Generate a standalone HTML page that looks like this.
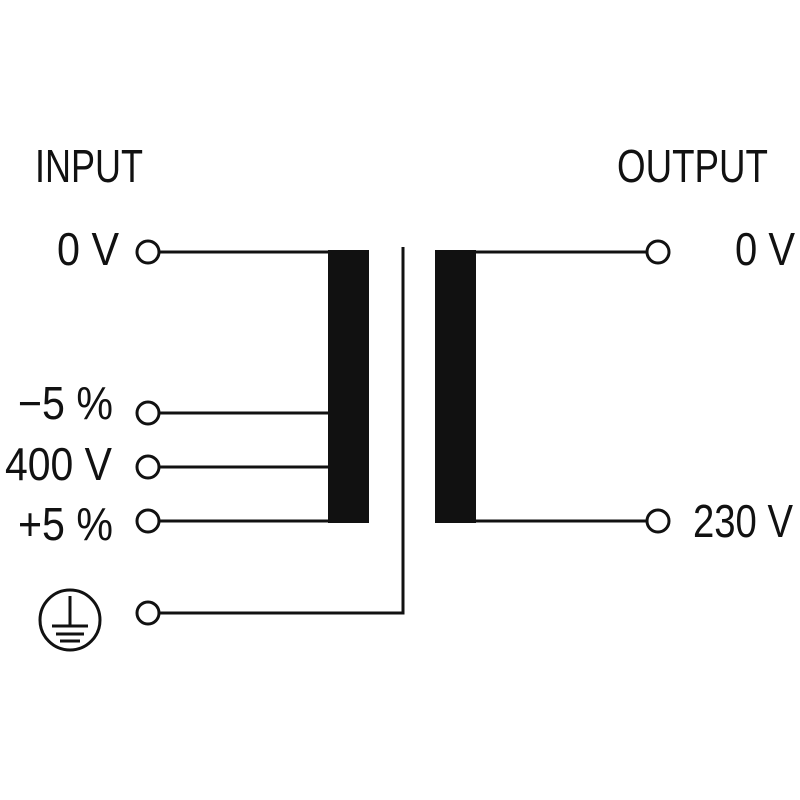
<!DOCTYPE html>
<html><head><style>html,body{margin:0;padding:0;background:#fff}svg{display:block}</style></head>
<body>
<svg width="800" height="800" viewBox="0 0 800 800" xmlns="http://www.w3.org/2000/svg">
<g font-family="Liberation Sans, sans-serif" font-size="46" fill="#111">
<text x="35" y="182" textLength="108" lengthAdjust="spacingAndGlyphs">INPUT</text>
<text x="617" y="182" textLength="151" lengthAdjust="spacingAndGlyphs">OUTPUT</text>
<text x="57" y="265" textLength="62" lengthAdjust="spacingAndGlyphs">0 V</text>
<text x="735" y="265" textLength="60" lengthAdjust="spacingAndGlyphs">0 V</text>
<text x="18" y="419" textLength="95" lengthAdjust="spacingAndGlyphs">−5 %</text>
<text x="5" y="480" textLength="107" lengthAdjust="spacingAndGlyphs">400 V</text>
<text x="18" y="540" textLength="95" lengthAdjust="spacingAndGlyphs">+5 %</text>
<text x="693" y="537" textLength="100" lengthAdjust="spacingAndGlyphs">230 V</text>
</g>
<g stroke="#111" stroke-width="3" fill="none">
<line x1="160" y1="252" x2="330" y2="252"/>
<line x1="160" y1="413" x2="330" y2="413"/>
<line x1="160" y1="467" x2="330" y2="467"/>
<line x1="160" y1="521" x2="330" y2="521"/>
<polyline points="160,613 403,613 403,247"/>
<line x1="475" y1="252" x2="646" y2="252"/>
<line x1="475" y1="521" x2="646" y2="521"/>
<circle cx="148" cy="252" r="11"/>
<circle cx="148" cy="413" r="11"/>
<circle cx="148" cy="467" r="11"/>
<circle cx="148" cy="521" r="11"/>
<circle cx="148" cy="613" r="11"/>
<circle cx="658" cy="252" r="11"/>
<circle cx="658" cy="521" r="11"/>
<circle cx="70" cy="620" r="30"/>
<line x1="70" y1="596" x2="70" y2="625"/>
<line x1="52" y1="626" x2="88" y2="626"/>
<line x1="56" y1="634" x2="84" y2="634"/>
<line x1="60" y1="641" x2="80" y2="641"/>
</g>
<rect x="328" y="250" width="41" height="273" fill="#111"/>
<rect x="435" y="250" width="41" height="273" fill="#111"/>
</svg>
</body></html>
